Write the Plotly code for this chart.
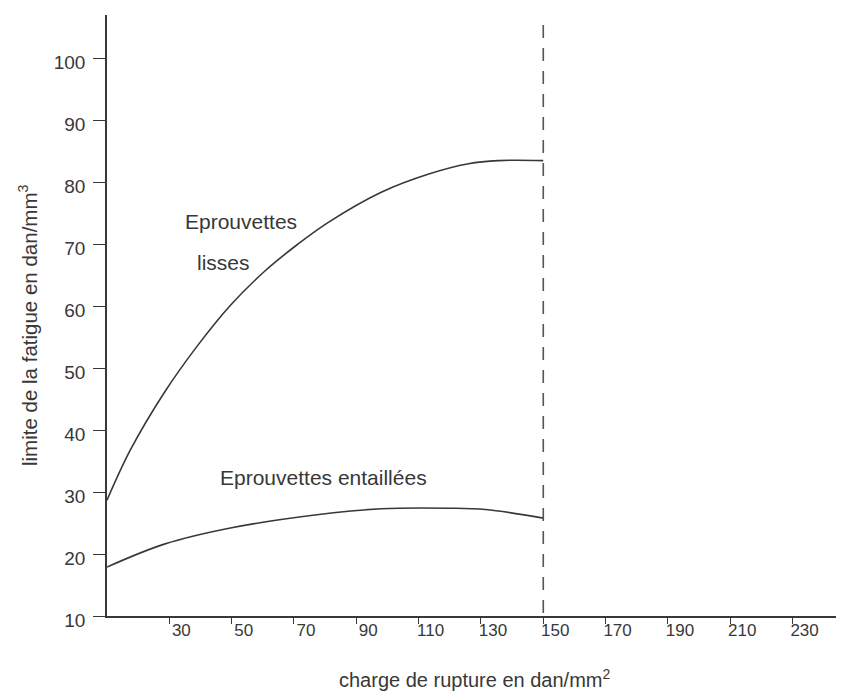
import plotly.graph_objects as go

# Data
lisses_x = [10, 17.5, 28.3, 39, 49.7, 60.5, 71.2, 80.9, 98, 113, 126, 135.6, 150]
lisses_y = [28.7, 36.8, 46.0, 53.6, 60.2, 65.6, 70.0, 73.5, 78.4, 81.3, 83.0, 83.5, 83.5]

entaillees_x = [10, 28.4, 49.6, 76.7, 98, 119.5, 131.4, 150]
entaillees_y = [17.9, 21.6, 24.2, 26.3, 27.3, 27.4, 27.2, 25.8]

limit_x = 150
y_ticks = [10, 20, 30, 40, 50, 60, 70, 80, 90, 100]
x_ticks = [30, 50, 70, 90, 110, 130, 150, 170, 190, 210, 230]

INK = "#383838"
FONT = "Liberation Sans, Arial, sans-serif"

# page body adds an 8px margin; compensate
OFF = 8
W, H = 844 - OFF, 691 - OFF
L, T, B = 107 - OFF, 15 - OFF, 75
PW = W - L
PH = H - T - B

fig = go.Figure()
fig.add_trace(go.Scatter(x=lisses_x, y=lisses_y, mode="lines",
                         line=dict(color=INK, width=1.6, shape="spline", smoothing=1.0),
                         showlegend=False, hoverinfo="skip"))
fig.add_trace(go.Scatter(x=entaillees_x, y=entaillees_y, mode="lines",
                         line=dict(color=INK, width=1.6, shape="spline", smoothing=1.0),
                         showlegend=False, hoverinfo="skip"))

fig.add_shape(type="line", x0=limit_x, x1=limit_x, y0=10.5, y1=107.5,
              xref="x", yref="y",
              line=dict(color="#555555", width=1.6, dash="13px,10px"))

ann_font = dict(family=FONT, size=21, color=INK)
fig.add_annotation(x=34.4, y=73.6, text="Eprouvettes", showarrow=False,
                   xanchor="left", yanchor="middle", font=ann_font)
fig.add_annotation(x=38.2, y=67.1, text="lisses", showarrow=False,
                   xanchor="left", yanchor="middle", font=ann_font)
fig.add_annotation(x=45.6, y=32.4, text="Eprouvettes entaillées", showarrow=False,
                   xanchor="left", yanchor="middle", font=ann_font)

# Axis titles (positions in screen pixels converted to paper coords)
fig.add_annotation(xref="paper", yref="paper",
                   x=(475 - 107) / PW, y=-(678 - 616) / PH,
                   text="charge de rupture en dan/mm<sup>2</sup>", showarrow=False,
                   xanchor="center", yanchor="middle",
                   font=dict(family=FONT, size=20, color=INK))
fig.add_annotation(xref="paper", yref="paper",
                   x=-(107 - 28) / PW, y=(616 - 326) / PH,
                   text="limite de la fatigue en dan/mm<sup>3</sup>", showarrow=False,
                   textangle=-90, xanchor="center", yanchor="middle",
                   font=dict(family=FONT, size=20.5, color=INK))

fig.update_layout(
    width=W, height=H,
    margin=dict(l=L, r=0, t=T, b=B, autoexpand=False),
    paper_bgcolor="white", plot_bgcolor="white",
    font=dict(family=FONT, size=19, color=INK),
    xaxis=dict(range=[10, 246.5], showgrid=False, zeroline=False, automargin=False,
               showline=True, linecolor=INK, linewidth=1.6,
               tickvals=x_ticks, ticks="outside", ticklen=6, tickwidth=1.2,
               tickcolor=INK, ticklabelshift=12, ticklabelstandoff=-8,
               tickfont=dict(family=FONT, size=17, color=INK)),
    yaxis=dict(range=[10, 107], showgrid=False, zeroline=False, automargin=False,
               showline=True, linecolor=INK, linewidth=1.6,
               tickvals=y_ticks, ticks="outside", ticklen=12, tickwidth=1.2,
               tickcolor=INK, ticklabelshift=4, ticklabelstandoff=4,
               tickfont=dict(family=FONT, size=19, color=INK)),
)

fig.write_html("out.html")
